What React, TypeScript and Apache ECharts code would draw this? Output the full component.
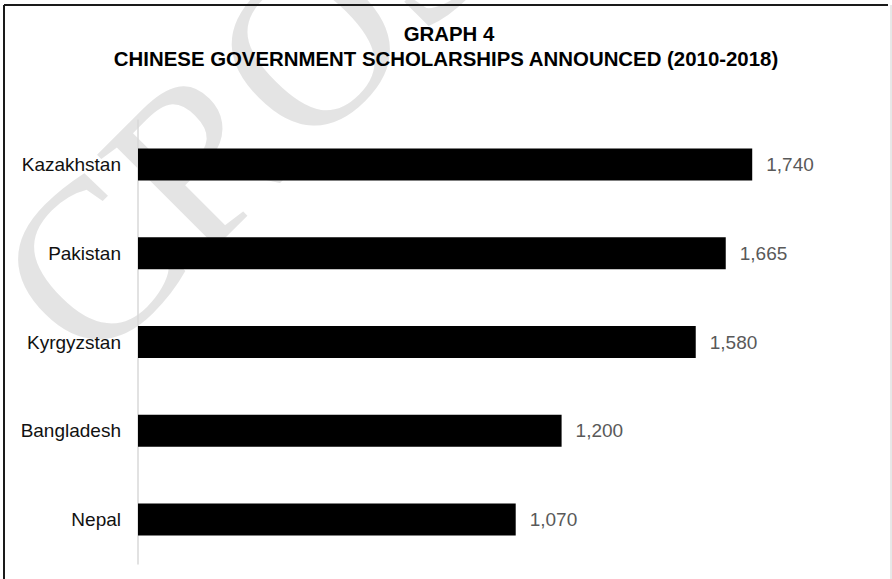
import React, { useEffect, useRef } from "react";
import * as echarts from "echarts";

const categories = ["Kazakhstan", "Pakistan", "Kyrgyzstan", "Bangladesh", "Nepal"];
const values = [1740, 1665, 1580, 1200, 1070];
const titleLines = ["GRAPH 4", "CHINESE GOVERNMENT SCHOLARSHIPS ANNOUNCED (2010-2018)"];
const watermark = "CROSS";

const FONT = "'Liberation Sans', Arial, sans-serif";

export default function App() {
  const ref = useRef<HTMLDivElement>(null);
  useEffect(() => {
    if (!ref.current) return;
    const chart = echarts.init(ref.current, undefined, { renderer: "svg" });
    const deg = Math.PI / 180;
    chart.setOption({
      animation: false,
      backgroundColor: "#ffffff",
      graphic: [
        {
          type: "text",
          z: -10,
          x: 36,
          y: 318,
          rotation: 45 * deg,
          style: {
            text: watermark,
            fontFamily: "'Liberation Serif', 'Times New Roman', serif",
            fontSize: 228,
            fill: "#e4e4e4",
            textAlign: "left",
            textVerticalAlign: "middle",
          },
        },
        {
          type: "text",
          z: 50,
          x: 449,
          y: 34,
          style: {
            text: titleLines[0],
            fontFamily: FONT,
            fontWeight: "bold",
            fontSize: 20.4,
            fill: "#000000",
            textAlign: "center",
            textVerticalAlign: "middle",
          },
        },
        {
          type: "text",
          z: 50,
          x: 446,
          y: 58.5,
          style: {
            text: titleLines[1],
            fontFamily: FONT,
            fontWeight: "bold",
            fontSize: 20.4,
            fill: "#000000",
            textAlign: "center",
            textVerticalAlign: "middle",
          },
        },
        {
          type: "line",
          shape: { x1: 4, y1: 5, x2: 888, y2: 5 },
          style: { stroke: "#1a1a1a", lineWidth: 2 },
          z: 100,
        },
        {
          type: "line",
          shape: { x1: 4, y1: 5, x2: 4, y2: 579 },
          style: { stroke: "#1a1a1a", lineWidth: 2 },
          z: 100,
        },
        {
          type: "line",
          shape: { x1: 891, y1: 5, x2: 891, y2: 579 },
          style: { stroke: "#d0d0d0", lineWidth: 1 },
          z: 100,
        },
      ],
      grid: { left: 138, right: 48, top: 120, bottom: 15, containLabel: false },
      xAxis: {
        type: "value",
        min: 0,
        max: 2000,
        show: false,
      },
      yAxis: {
        type: "category",
        data: categories,
        inverse: true,
        axisLine: { show: true, lineStyle: { color: "#d9d9d9", width: 1.5 } },
        axisTick: { show: false },
        axisLabel: {
          margin: 17,
          fontFamily: FONT,
          fontSize: 19,
          color: "#111111",
        },
        splitLine: { show: false },
      },
      series: [
        {
          type: "bar",
          data: values,
          barWidth: 32,
          itemStyle: { color: "#000000" },
          label: {
            show: true,
            position: "right",
            distance: 14,
            fontFamily: FONT,
            fontSize: 19,
            color: "#595959",
            formatter: (p: any) => Number(p.value).toLocaleString("en-US"),
          },
        },
      ],
    });
    return () => chart.dispose();
  }, []);
  return (
    <div
      ref={ref}
      style={{ position: "fixed", left: 0, top: 0, width: 892, height: 579 }}
    />
  );
}
